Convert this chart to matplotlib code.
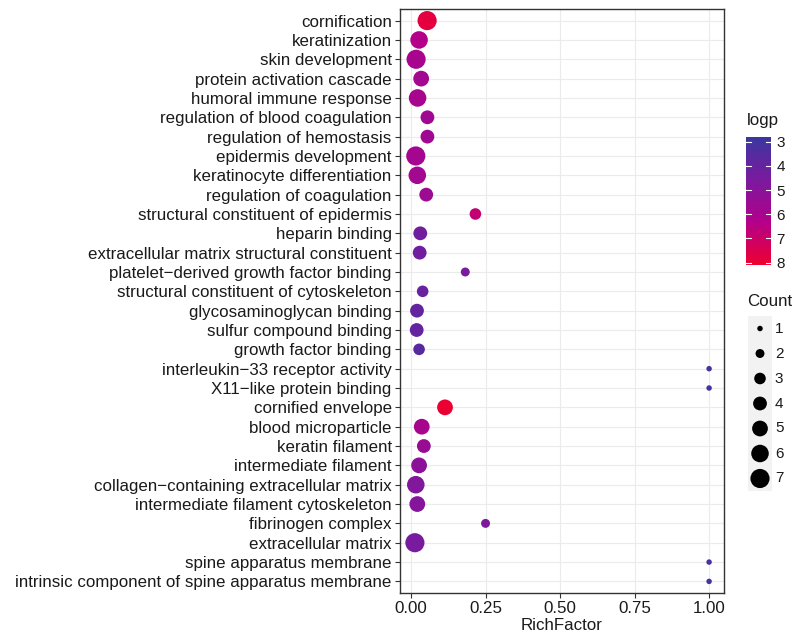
import numpy as np
import matplotlib
matplotlib.use("Agg")
import matplotlib.pyplot as plt
from matplotlib.colors import LinearSegmentedColormap, Normalize
from matplotlib.cm import ScalarMappable

plt.rcParams['font.family'] = ['Liberation Sans', 'DejaVu Sans']

# GO terms, top to bottom
terms = [
    "cornification", "keratinization", "skin development",
    "protein activation cascade", "humoral immune response",
    "regulation of blood coagulation", "regulation of hemostasis",
    "epidermis development", "keratinocyte differentiation",
    "regulation of coagulation", "structural constituent of epidermis",
    "heparin binding", "extracellular matrix structural constituent",
    "platelet\u2212derived growth factor binding",
    "structural constituent of cytoskeleton", "glycosaminoglycan binding",
    "sulfur compound binding", "growth factor binding",
    "interleukin\u221233 receptor activity", "X11\u2212like protein binding",
    "cornified envelope", "blood microparticle", "keratin filament",
    "intermediate filament", "collagen\u2212containing extracellular matrix",
    "intermediate filament cytoskeleton", "fibrinogen complex",
    "extracellular matrix", "spine apparatus membrane",
    "intrinsic component of spine apparatus membrane",
]
rich = [0.054, 0.027, 0.017, 0.034, 0.022, 0.055, 0.055, 0.016, 0.021, 0.051,
        0.216, 0.031, 0.029, 0.182, 0.039, 0.020, 0.019, 0.027, 1.0, 1.0,
        0.114, 0.036, 0.043, 0.027, 0.016, 0.021, 0.25, 0.013, 1.0, 1.0]
count = [7, 6, 7, 5, 6, 4, 4, 7, 6, 4,
         3, 4, 4, 2, 3, 4, 4, 3, 1, 1,
         5, 5, 4, 5, 6, 5, 2, 7, 1, 1]
logp = [7.8, 6.3, 6.0, 5.8, 6.0, 5.7, 5.7, 5.9, 5.8, 5.6,
        6.8, 4.3, 4.3, 4.5, 4.1, 4.0, 4.0, 3.6, 3.2, 3.2,
        8.0, 6.0, 5.5, 5.1, 4.8, 4.9, 4.7, 4.5, 3.2, 3.2]
xticks = [0.0, 0.25, 0.5, 0.75, 1.0]
count_levels = [1, 2, 3, 4, 5, 6, 7]
logp_ticks = [3, 4, 5, 6, 7, 8]

cmap = LinearSegmentedColormap.from_list("bp", ["#3b37a0", "#7a1a9e", "#b3008a", "#ee0030"])
norm = Normalize(vmin=2.8, vmax=8.1)

def size_of(c):
    d_px = 8.3 * np.sqrt(np.asarray(c, dtype=float)) - 2.8
    return (d_px * 0.72) ** 2

fig = plt.figure(figsize=(7.95, 6.35), dpi=100)
ax = fig.add_axes([400 / 795, 1 - 593 / 635, 324 / 795, 584 / 635])

n = len(terms)
y = np.arange(n)
ax.scatter(rich, y, s=size_of(count), c=logp, cmap=cmap, norm=norm,
           edgecolors="none", zorder=3)

ax.set_yticks(y, terms)
ax.set_ylim(n - 1 + 0.6, -0.6)
ax.set_xlim(-0.037, 1.05)
ax.set_xticks(xticks, ["0.00", "0.25", "0.50", "0.75", "1.00"])
ax.grid(True, color="#ebebeb", linewidth=0.8, zorder=0)
ax.set_axisbelow(True)
ax.tick_params(axis="both", labelsize=12.2, colors="#333333", length=3.5,
               width=0.8, labelcolor="#1a1a1a", pad=2.5)
ax.set_xlabel("RichFactor", fontsize=12.2, color="#1a1a1a", labelpad=1)
for sp in ax.spines.values():
    sp.set_color("#333333")
    sp.set_linewidth(1.0)

# colour bar legend
cax = fig.add_axes([746 / 795, 1 - 265 / 635, 25 / 795, 128 / 635])
cb = fig.colorbar(ScalarMappable(norm=norm, cmap=cmap), cax=cax)
cb.outline.set_visible(False)
cax.invert_yaxis()
cb.set_ticks(logp_ticks)
cax.tick_params(length=0, labelsize=11, labelcolor="#1a1a1a", pad=4)
for t in logp_ticks:
    cax.plot([0, 0.2], [t, t], color="white", lw=0.8, transform=cax.get_yaxis_transform())
    cax.plot([0.8, 1], [t, t], color="white", lw=0.8, transform=cax.get_yaxis_transform())
fig.text(747 / 795, 1 - 121 / 635, "logp", fontsize=12.2, color="#1a1a1a", va="center")

# size legend
fig.text(747 / 795, 1 - 301 / 635, "Count", fontsize=12.2, color="#1a1a1a", va="center")
lax = fig.add_axes([748 / 795, 1 - 491 / 635, 24 / 795, 175 / 635])
lax.set_facecolor("#f2f2f2")
for sp in lax.spines.values():
    sp.set_visible(False)
lax.set_xticks([])
lax.set_yticks([])
ky = np.arange(len(count_levels))
lax.scatter(np.zeros(len(ky)), ky, s=size_of(count_levels), color="black", edgecolors="none")
lax.set_xlim(-1, 1)
lax.set_ylim(len(ky) - 0.5, -0.5)
for i, c in enumerate(count_levels):
    lax.text(1.6, i, str(c), fontsize=11, color="#1a1a1a", va="center", ha="center",
             transform=lax.transData, clip_on=False)

fig.savefig("out.png", dpi=100)
